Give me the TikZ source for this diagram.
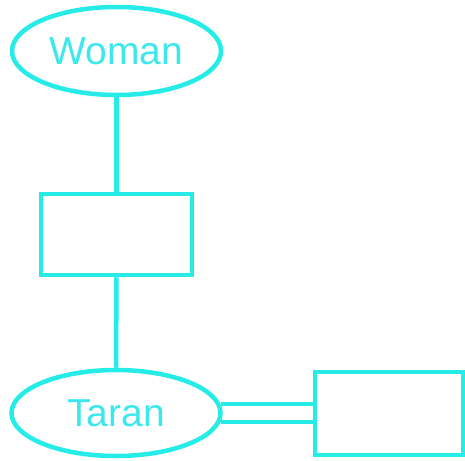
\documentclass[tikz,border=0pt]{standalone}
\usepackage{fontspec}
\setmainfont{Liberation Sans}
\usetikzlibrary{shapes.geometric}
\definecolor{lc}{RGB}{38,236,232}
\definecolor{tc}{RGB}{60,232,236}
\tikzset{
  ent/.style={draw=lc, line width=4.5pt, ellipse, inner sep=0pt, minimum width=209pt, minimum height=88pt, text=tc, font=\fontsize{39}{41}\selectfont},
  box/.style={draw=lc, line width=4.5pt, inner sep=0pt},
  link/.style={draw=lc, line width=4.5pt}
}
\begin{document}
\begin{tikzpicture}[x=1pt,y=-1pt]
\useasboundingbox (0,0) rectangle (465,460);
\node[ent] (w) at (116.5,51) {Woman};
\node[box, minimum width=151pt, minimum height=81pt] (m) at (116.5,234.5) {};
\node[ent, minimum height=86pt] (t) at (116,413) {Taran};
\node[box, minimum width=148pt, minimum height=83pt] (r) at (389,413.5) {};
\draw[link] (w.south) -- (m.north);
\draw[link] (m.south) -- (t.north);
\draw[link] (t.5) -- (t.5 -| r.west);
\draw[link] (t.-5) -- (t.-5 -| r.west);
\end{tikzpicture}
\end{document}
